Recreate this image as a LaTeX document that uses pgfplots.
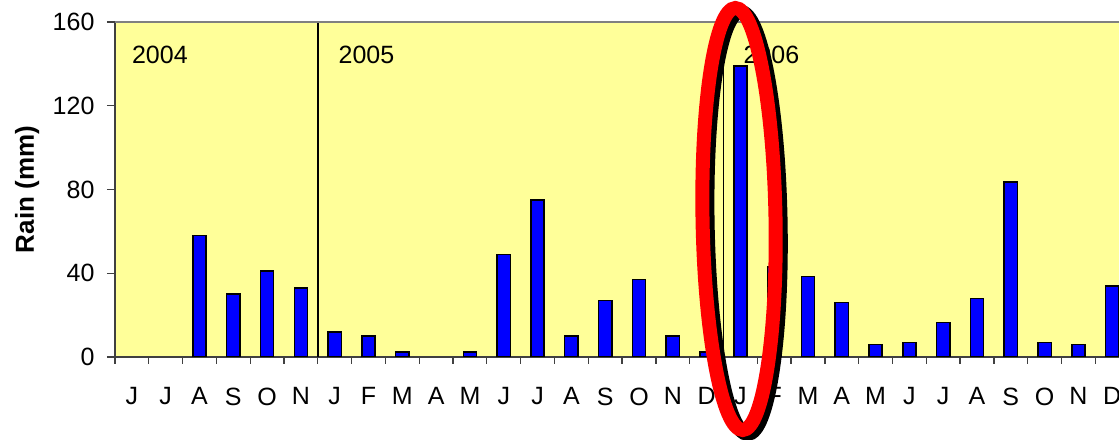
\documentclass[border=0pt]{standalone}
\usepackage{fontspec}
\setmainfont{Liberation Sans}
\usepackage{pgfplots}
\pgfplotsset{compat=1.18}
\usetikzlibrary{calc}
\definecolor{bgyellow}{RGB}{255,255,153}
\definecolor{barblue}{RGB}{0,0,255}

\begin{document}
\begin{tikzpicture}[font=\fontsize{10}{12}\selectfont]
\begin{axis}[
    name=ax,
    scale only axis,
    width=401.6pt, height=134pt,
    xmin=-0.5, xmax=29.2,
    ymin=0, ymax=160,
    axis x line*=bottom,
    axis y line*=left,
    axis line style={draw=black!75, line width=0.6pt},
    axis background/.style={fill=bgyellow},
    clip mode=individual,
    ytick={0,40,...,160},
    xtick={0,...,29},
    xticklabels={J,J,A,S,O,N,J,F,M,A,M,J,J,A,S,O,N,D,J,F,M,A,M,J,J,A,S,O,N,D},
    minor xtick={-0.5,0.5,...,28.5},
    tick align=outside,
    major tick length=3.2pt,
    minor tick length=2.8pt,
    major x tick style={draw=none},
    tick style={black!75, line width=0.5pt},
    /pgf/number format/assume math mode=true,
    yticklabel style={xshift=-1.5pt},
    xticklabel style={yshift=-5.5pt},
]
% monthly rain, Jun 2004 .. Dec 2006 (months with no rain left out)
\addplot[ybar, bar width=5.3pt, fill=barblue, draw=black, line width=0.6pt] coordinates {
    (2,58) (3,30) (4,41) (5,33)
    (6,12) (7,10) (8,2.5) (10,2.5) (11,49) (12,75) (13,10) (14,27) (15,37) (16,10) (17,2.5)
    (18,139) (19,43) (20,38.5) (21,26) (22,6) (23,7) (24,16.5) (25,28) (26,83.5) (27,7) (28,6) (29,34)
};
% year separators and labels
\draw[black, line width=0.6pt] (axis cs:5.5,0) -- (axis cs:5.5,160);
\draw[black, line width=0.6pt] (axis cs:17.5,0) -- (axis cs:17.5,160);
\draw[gray, line width=0.6pt] (rel axis cs:0,1) -- (rel axis cs:1,1);
\node[anchor=base west, inner sep=0] at (axis cs:-0.01,140) {2004};
\node[anchor=base west, inner sep=0] at (axis cs:6.1,140) {2005};
\node[anchor=base west, inner sep=0] at (axis cs:18.08,140) {2006};
\node[rotate=90, font=\bfseries\fontsize{10.4}{12}\selectfont] at (axis description cs:-0.0876,0.5) {Rain (mm)};
% highlight
\draw[black, line width=5.6pt, rotate around={1:(axis cs:17.96,65.9)}] ([xshift=2pt,yshift=-1.6pt]axis cs:17.96,65.9) ellipse [x radius=14.6pt, y radius=84.4pt];
\draw[red, line width=5.6pt, rotate around={1:(axis cs:17.96,65.9)}] (axis cs:17.96,65.9) ellipse [x radius=14.6pt, y radius=84.4pt];
\end{axis}
\pgfresetboundingbox
\path ($(ax.south west)+(-46pt,-33.2pt)$) rectangle ($(ax.north east)+(0,8.8pt)$);
\end{tikzpicture}
\end{document}
